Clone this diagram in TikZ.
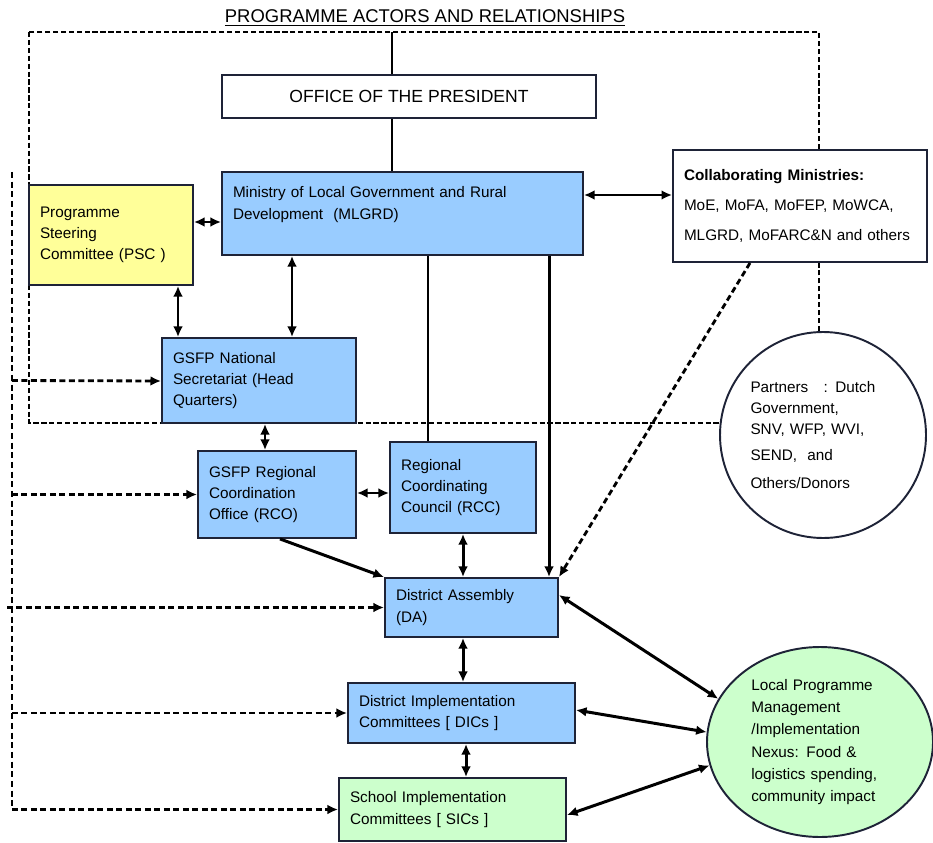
\documentclass[tikz,border=0pt]{standalone}
\usepackage{fontspec}
\setmainfont{Liberation Sans}
\usepackage{tikz}
\usetikzlibrary{arrows.meta, shapes.geometric}

\definecolor{boxblue}{RGB}{153,204,255}
\definecolor{boxyellow}{RGB}{255,255,153}
\definecolor{boxgreen}{RGB}{204,255,204}
\definecolor{boxline}{RGB}{30,35,55}

\begin{document}
\begin{tikzpicture}[>={Latex[length=6pt,width=5.5pt]},
	box/.style={rectangle, draw=boxline, line width=1.1pt, align=left, inner xsep=0.22cm, font=\fontsize{8.7}{12}\selectfont},
	blue box/.style={box, fill=boxblue},
	link/.style={<->, line width=1.7pt},
	frame line/.style={line width=1.6pt, dash pattern=on 3pt off 1.5pt},
	dash link/.style={->, line width=1.6pt, dash pattern=on 3.4pt off 2pt}]

	\useasboundingbox (0,0) rectangle (18.66,-16.84);

	% outer dashed frame
	\draw[frame line] (0.58,-0.64) rectangle (16.38,-8.46);
	\coordinate (top) at (7.84,-0.64);
	\coordinate (left) at (0.24,-3.44);

	\node (title) at (8.5,-0.36) {\fontsize{10.5}{12}\selectfont\underline{PROGRAMME ACTORS AND RELATIONSHIPS}};

	\node[box, fill=white, align=center, minimum width=7.48cm, minimum height=0.86cm, font=\fontsize{10}{12}\selectfont] (office) at (8.18,-1.93) {OFFICE OF THE PRESIDENT};
	\node[blue box, text width=6.78cm, minimum height=1.66cm] (mlgrd) at (8.05,-4.27) {Ministry of Local Government and Rural\\Development\ \ (MLGRD)\\\mbox{}};
	\node[box, fill=boxyellow, text width=2.84cm, minimum height=2.0cm] (psc) at (2.22,-4.70) {Programme\\Steering\\Committee (PSC )};
	\node[box, fill=white, text width=4.64cm, minimum height=2.24cm, font=\fontsize{8.7}{17}\selectfont] (collab) at (16.0,-4.12) {\textbf{Collaborating Ministries:}\\MoE, MoFA, MoFEP, MoWCA,\\MLGRD, MoFARC\&N and others};

	\node[blue box, text width=3.44cm, minimum height=1.70cm] (nat) at (5.18,-7.61) {GSFP National\\Secretariat (Head\\Quarters)};
	\node[blue box, text width=2.72cm, minimum height=1.74cm] (reg) at (5.54,-9.89) {GSFP Regional\\Coordination\\Office (RCO)};
	\node[blue box, text width=2.48cm, minimum height=1.82cm] (rcc) at (9.26,-9.75) {Regional\\Coordinating\\Council (RCC)};
	\node[blue box, text width=3.02cm, minimum height=1.18cm] (da) at (9.43,-12.15) {District Assembly\\(DA)};
	\node[blue box, text width=4.10cm, minimum height=1.20cm] (dic) at (9.23,-14.26) {District Implementation\\Committees [ DICs ]};
	\node[box, fill=boxgreen, text width=4.10cm, minimum height=1.26cm] (sic) at (9.05,-16.19) {School Implementation\\Committees [ SICs ]};

	\node[circle, draw=boxline, line width=1.1pt, fill=white, minimum size=4.12cm, text width=2.9cm, align=left, font=\fontsize{8.7}{12}\selectfont] (partners) at (16.46,-8.70) {Partners\ \ \ : Dutch\\Government,\\SNV, WFP, WVI,\\[3pt]SEND,\ \ and\\[4pt]Others/Donors};
	\node[ellipse, draw=boxline, line width=1.1pt, fill=boxgreen, minimum width=4.52cm, minimum height=3.80cm, inner sep=0pt, text width=2.75cm, align=left, font=\fontsize{8.7}{12.6}\selectfont] (local) at (16.40,-14.84) {Local Programme\\Management\\/Implementation\\Nexus: Food \&\\logistics spending,\\community impact};

	% line from the top down to the ministry
	\draw[line width=1.1pt] (top) -- (top |- office.north);
	\draw[line width=1.1pt] (office.south -| top) -- (top |- mlgrd.north);

	% national level
	\draw[link] (psc.east |- 0,-4.44) -- (mlgrd.west |- 0,-4.44);
	\draw[link] (mlgrd.east |- 0,-3.90) -- (collab.west |- 0,-3.90);
	\draw[link] (psc.south -| 3.56,0) -- (nat.north -| 3.56,0);
	\draw[link] (mlgrd.south -| 5.84,0) -- (nat.north -| 5.84,0);
	\draw[line width=1.1pt] (mlgrd.south -| 8.56,0) -- (rcc.north -| 8.56,0);
	\draw[->, line width=1.7pt] (mlgrd.south -| 10.98,0) -- (da.north -| 10.98,0);
	\draw[dash link] (collab.south -| 15.0,0) -- (da.north east);

	% regional and district level
	\draw[link] (nat.south -| 5.30,0) -- (reg.north -| 5.30,0);
	\draw[link] (reg.east |- 0,-9.86) -- (rcc.west |- 0,-9.86);
	\draw[->, line width=1.7pt] (reg.south -| 5.6,0) -- (da.north west);
	\draw[link] (rcc.south -| 9.26,0) -- (da.north -| 9.26,0);
	\draw[link] (da.south -| 9.26,0) -- (dic.north -| 9.26,0);
	\draw[link] (dic.south -| 9.32,0) -- (sic.north -| 9.32,0);

	% links to the local nexus
	\draw[link] (da.east |- 0,-11.9) -- (local.157);
	\draw[link] (dic.east |- 0,-14.2) -- (local.175);
	\draw[link] (sic.east |- 0,-16.3) -- (local.192);

	% dashed feedback line on the left
	\draw[line width=1.6pt, dash pattern=on 3.5pt off 2pt] (left) -- (left |- sic.west);
	\draw[dash link] (nat.west -| left) -- (nat.west |- 0,-7.62);
	\draw[dash link] (reg.west -| left) -- (reg.west);
	\draw[dash link] ([xshift=-0.1cm]da.west -| left) -- (da.west);
	\draw[dash link] (dic.west -| left) -- (dic.west);
	\draw[dash link] (sic.west -| left) -- (sic.west);

\end{tikzpicture}
\end{document}
